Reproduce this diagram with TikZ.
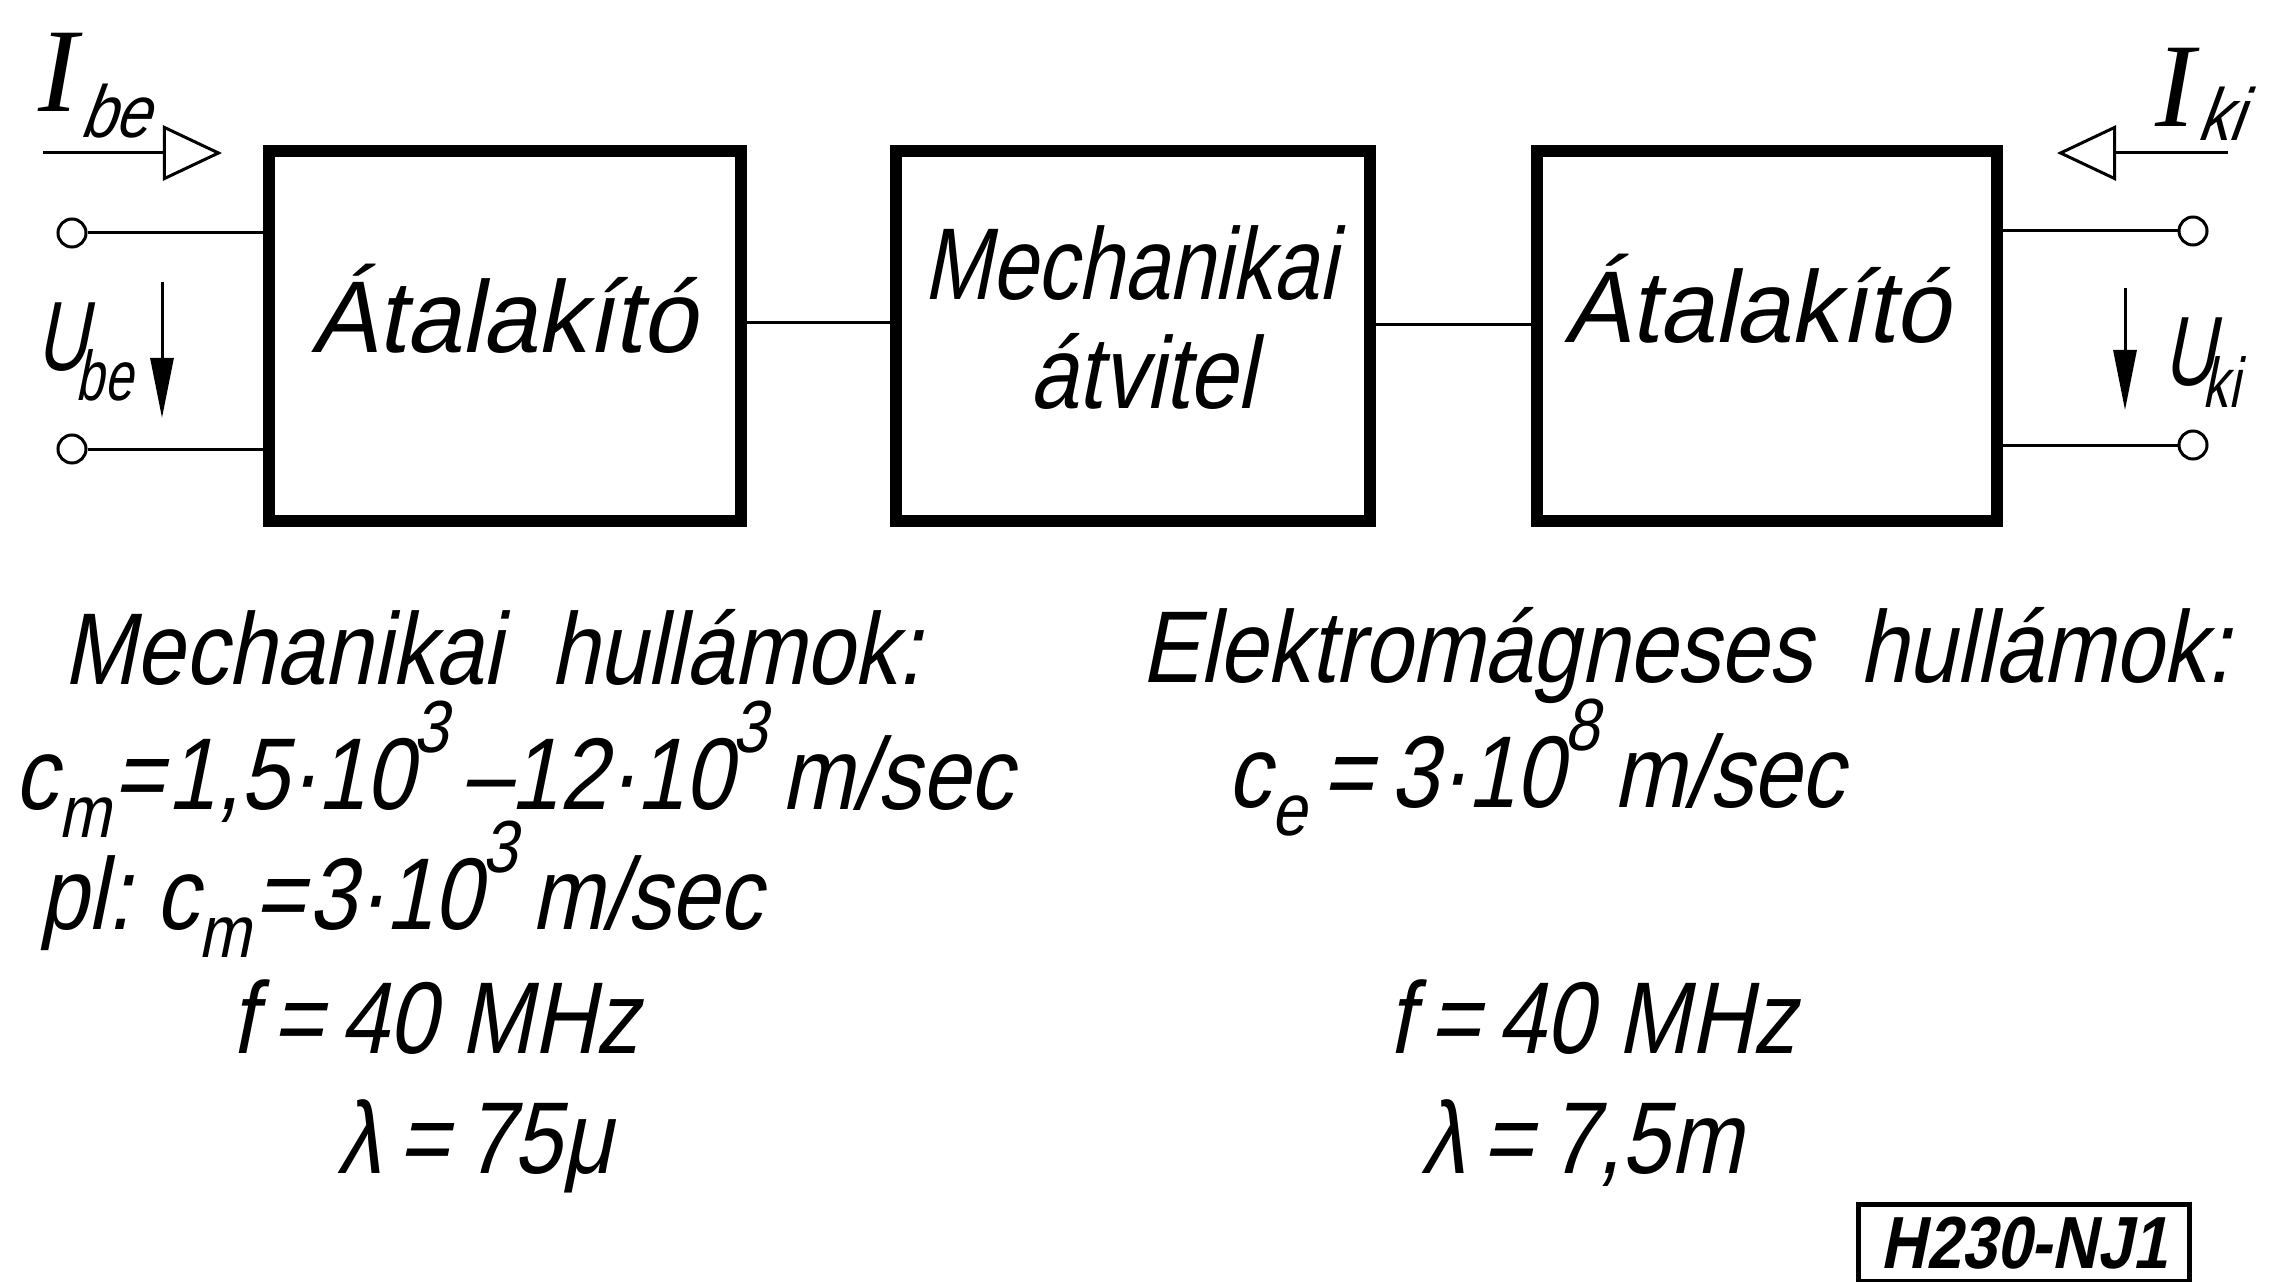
\documentclass[tikz,border=0pt]{standalone}
\usepackage{fontspec}
\usetikzlibrary{arrows.meta}
% technical (stencil-like) lettering: slanted, slightly condensed sans
\newfontfamily\din[FakeSlant=0.2,FakeStretch=0.85]{Liberation Sans}
\newfontfamily\dinwide[FakeSlant=0.2,FakeStretch=0.97]{Liberation Sans}
\newfontfamily\dinnarrow[FakeSlant=0.2,FakeStretch=0.8]{Liberation Sans}
\newfontfamily\dinlabel[FakeSlant=0.2,FakeStretch=0.72]{Liberation Sans}
\newfontfamily\serifletter{Liberation Serif}
\newcommand\lowidx[1]{\raisebox{-0.28em}{\fontsize{21}{21}\selectfont #1}}
\newcommand\hiidx[1]{\raisebox{0.55em}{\fontsize{21}{21}\selectfont #1}\kern4pt}
\begin{document}
\begin{tikzpicture}[x=0.01cm,y=-0.01cm,
  blockbox/.style={draw,line width=0.12cm,minimum width=#1,minimum height=3.70cm,inner sep=0pt},
  wire/.style={line width=0.03cm},
  terminal/.style={draw,circle,line width=0.03cm,minimum size=0.28cm,inner sep=0pt},
  lettering/.style={inner sep=0pt,font=\din\fontsize{29}{31}\selectfont},
  openhead/.style={-{Triangle[open,length=0.59cm,width=0.55cm,line width=0.03cm]}},
  fullhead/.style={-{Triangle[length=0.6cm,width=0.23cm]}}
]
\useasboundingbox[fill=white] (0,0) rectangle (2272,1282);

% the three blocks
\node[blockbox=4.72cm] (b1) at (505,336) {};
\node[blockbox=4.73cm] (b2) at (1133,336) {};
\node[blockbox=4.60cm] (b3) at (1767,336) {};

\node[lettering,anchor=base,font=\dinwide\fontsize{29}{31}\selectfont] (t1) at (504,352) {Átalakító};
\node[lettering,anchor=base,font=\dinnarrow\fontsize{29}{31}\selectfont] (t2a) at (1130,300) {Mechanikai};
\node[lettering,anchor=base] (t2b) at (1143,409) {átvitel};
\node[lettering,anchor=base,font=\dinwide\fontsize{29}{31}\selectfont] (t3) at (1757,343) {Átalakító};

% couplings between the blocks
\draw[wire] ([yshift=0.13cm]b1.east) -- ([yshift=0.13cm]b2.west);
\draw[wire] ([yshift=0.11cm]b2.east) -- ([yshift=0.11cm]b3.west);

% input port
\node[terminal] (tl1) at (72,233) {};
\node[terminal] (tl2) at (72,449) {};
\draw[wire] (tl1.east) -- (tl1.east -| b1.west);
\draw[wire] (tl2.east) -- (tl2.east -| b1.west);

\coordinate (ibeA) at (43,153);
\coordinate (ibeB) at (222,153);
\draw[wire,openhead] (ibeA) -- (ibeB);
\node[anchor=base west,inner sep=0pt] (lIbe) at (38,112)
  {\fontsize{34}{34}\serifletter\itshape I\hspace{1pt}\raisebox{-0.25cm}{\din\fontsize{21}{21}\selectfont be}};

\coordinate (ubeA) at (162,282);
\coordinate (ubeB) at (162,418);
\draw[wire,fullhead] (ubeA) -- (ubeB);
\node[anchor=base west,inner sep=0pt] (lUbe) at (36,370)
  {\dinlabel\fontsize{28}{28}\selectfont U\kern-0.12cm\raisebox{-0.3cm}{\fontsize{20}{20}\selectfont be}};

% output port
\node[terminal] (tr1) at (2193,231) {};
\node[terminal] (tr2) at (2193,445) {};
\draw[wire] (tr1.west -| b3.east) -- (tr1.west);
\draw[wire] (tr2.west -| b3.east) -- (tr2.west);

\coordinate (ikiA) at (2228,153);
\coordinate (ikiB) at (2057,153);
\draw[wire,openhead] (ikiA) -- (ikiB);
\node[anchor=base west,inner sep=0pt] (lIki) at (2155,127)
  {\fontsize{34}{34}\serifletter\itshape I\hspace{1pt}\raisebox{-0.13cm}{\din\fontsize{21}{21}\selectfont ki}};

\coordinate (ukiA) at (2125,288);
\coordinate (ukiB) at (2125,410);
\draw[wire,fullhead] (ukiA) -- (ukiB);
\node[anchor=base west,inner sep=0pt] (lUki) at (2163,385)
  {\dinlabel\fontsize{28}{28}\selectfont U\kern-0.12cm\raisebox{-0.22cm}{\fontsize{20}{20}\selectfont ki}};

% mechanical waves
\node[lettering,anchor=base west] (mh) at (63,684) {Mechanikai\ \ hullámok:};
\node[lettering,anchor=base west] (cm1) at (14,809)
  {c\lowidx{m}\kern1pt=\kern1pt1,5·10\hiidx{3}–12·10\hiidx{3}m/sec};
\node[lettering,anchor=base west] (cm2) at (39,929)
  {pl:\ c\lowidx{m}\kern1pt=\kern1pt3·10\hiidx{3} m/sec};
\node[lettering,anchor=base west] (f1) at (231,1053) {f\,=\,40 MHz};
\node[lettering,anchor=base west] (l1) at (337,1173) {λ\,=\,75μ};

% electromagnetic waves
\node[lettering,anchor=base west] (eh) at (1141,682) {Elektromágneses\ \ hullámok:};
\node[lettering,anchor=base west] (ce) at (1227,807)
  {c\lowidx{e}\,=\,3·10\hiidx{8}m/sec};
\node[lettering,anchor=base west] (f2) at (1388,1053) {f\,=\,40 MHz};
\node[lettering,anchor=base west] (l2) at (1421,1173) {λ\,=\,7,5m};

% drawing number
\node[draw,line width=0.05cm,minimum width=3.30cm,minimum height=0.76cm,inner sep=0pt,
      font=\din\bfseries\fontsize{21}{21}\selectfont] (code) at (2024,1243) {H230-NJ1};
\end{tikzpicture}
\end{document}
